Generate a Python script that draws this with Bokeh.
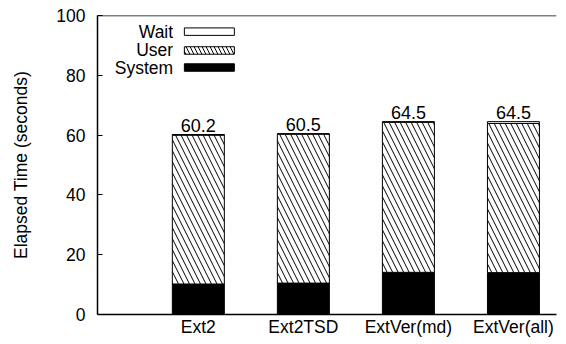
from bokeh.plotting import figure
from bokeh.models import ColumnDataSource, Span, BoxAnnotation, Label, LabelSet, FixedTicker
from bokeh.core.properties import value
from bokeh.embed import file_html
from bokeh.resources import INLINE

categories = ["Ext2", "Ext2TSD", "ExtVer(md)", "ExtVer(all)"]
system = [10.2, 10.5, 14.1, 14.0]
totals = [60.2, 60.5, 64.5, 64.5]
wait = [0.2, 0.2, 0.2, 0.6]
total_labels = ["60.2", "60.5", "64.5", "64.5"]
y_ticks = [0, 20, 40, 60, 80, 100]

xs = [i + 1 for i in range(len(categories))]
user_top = [t - w for t, w in zip(totals, wait)]

src = ColumnDataSource(dict(x=xs, sys=system, utop=user_top, tot=totals,
                            zero=[0] * len(xs), lab=total_labels))

FONT = "Liberation Sans"
FS = "17.5px"

p = figure(width=566, height=344, output_backend="svg", toolbar_location=None,
           x_range=(0.04, 4.41), y_range=(0, 100),
           min_border_left=97, min_border_right=10, min_border_top=15, min_border_bottom=30)
p.outline_line_color = None
p.grid.visible = False
p.background_fill_color = "white"

BW = 0.495
p.vbar(x="x", width=BW, bottom="zero", top="sys", source=src,
       fill_color="black", line_color="black", line_width=1)
p.vbar(x="x", width=BW, bottom="sys", top="utop", source=src,
       fill_color="white", line_color="black", line_width=1,
       hatch_pattern="\\", hatch_color="black", hatch_scale=11, hatch_weight=1)
p.vbar(x="x", width=BW, bottom="utop", top="tot", source=src,
       fill_color="white", line_color="black", line_width=1)

p.add_layout(LabelSet(x="x", y="tot", text="lab", source=src, text_align="center",
                      text_baseline="alphabetic", y_offset=3, text_font=value(FONT),
                      text_font_size=value("18px"), text_color=value("black")))

# top border
p.add_layout(Span(location=100, dimension="width", line_color="black", line_width=1.5))

# y axis
p.yaxis.ticker = FixedTicker(ticks=y_ticks)
p.yaxis.major_tick_in = 5
p.yaxis.major_tick_out = 0
p.yaxis.minor_tick_line_color = None
p.yaxis.major_label_standoff = 12
p.yaxis.major_label_text_font = FONT
p.yaxis.major_label_text_font_size = FS
p.yaxis.major_label_text_color = "black"
p.yaxis.axis_label = "Elapsed Time (seconds)"
p.yaxis.axis_label_text_font = FONT
p.yaxis.axis_label_text_font_size = FS
p.yaxis.axis_label_text_font_style = "normal"
p.yaxis.axis_label_text_color = "black"
p.yaxis.axis_label_standoff = 22
p.yaxis.axis_line_width = 1.5

# x axis
p.xaxis.ticker = FixedTicker(ticks=xs)
p.xaxis.major_label_overrides = {x: c for x, c in zip(xs, categories)}
p.xaxis.major_tick_in = 0
p.xaxis.major_tick_out = 0
p.xaxis.major_tick_line_color = None
p.xaxis.minor_tick_line_color = None
p.xaxis.major_label_standoff = 2
p.xaxis.major_label_text_font = FONT
p.xaxis.major_label_text_font_size = FS
p.xaxis.major_label_text_color = "black"
p.xaxis.axis_line_width = 1.5

# manual legend (label on left, swatch on right)
leg_names = ["Wait", "User", "System"]
leg_y = [94.6, 88.3, 82.6]
leg_h = 2.5
for name, yy in zip(leg_names, leg_y):
    kw = dict(left=0.867, right=1.343, bottom=yy - leg_h / 2, top=yy + leg_h / 2,
              line_color="black", line_width=1, line_alpha=1, fill_alpha=1)
    if name == "Wait":
        kw.update(fill_color="white")
    elif name == "User":
        kw.update(fill_color="white", hatch_pattern="\\", hatch_color="black",
                  hatch_scale=8, hatch_weight=1)
    else:
        kw.update(fill_color="black")
    p.add_layout(BoxAnnotation(**kw))
    p.add_layout(Label(x=0.76, y=yy, text=name, text_align="right",
                       text_baseline="middle", text_font=FONT,
                       text_font_size=FS, text_color="black"))

open("out.html", "w").write(file_html(p, INLINE))
